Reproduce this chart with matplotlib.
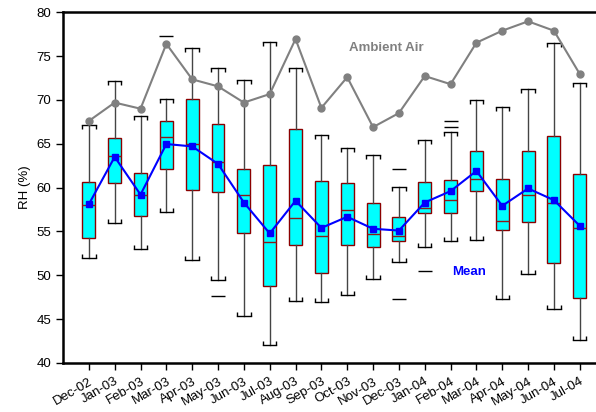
import matplotlib
matplotlib.use("Agg")
import matplotlib.pyplot as plt
import numpy as np

plt.rcParams['font.family'] = ['Liberation Sans', 'DejaVu Sans']

months = ["Dec-02", "Jan-03", "Feb-03", "Mar-03", "Apr-03", "May-03", "Jun-03",
          "Jul-03", "Aug-03", "Sep-03", "Oct-03", "Nov-03", "Dec-03", "Jan-04",
          "Feb-04", "Mar-04", "Apr-04", "May-04", "Jun-04", "Jul-04"]

ambient = [67.6, 69.7, 69.0, 76.4, 72.35, 71.55, 69.7, 70.67, 76.95, 69.1,
           72.6, 66.9, 68.5, 72.73, 71.8, 76.53, 77.9, 78.97, 77.9, 72.96]
mean_rh = [58.1, 63.5, 59.2, 64.97, 64.7, 62.7, 58.3, 54.77, 58.5, 55.4,
           56.67, 55.3, 55.1, 58.3, 59.6, 61.9, 57.92, 59.9, 58.57, 55.64]
median_rh = [58.0, 63.6, 59.1, 65.8, 64.97, 62.95, 59.14, 53.78, 56.5, 54.5,
             57.43, 54.66, 54.5, 57.7, 58.57, 60.97, 56.2, 59.18, 58.27, 55.4]
q1 = [54.2, 60.5, 56.75, 62.1, 59.7, 59.45, 54.8, 48.72, 53.44, 50.27,
      53.4, 53.2, 53.9, 57.05, 57.1, 59.6, 55.15, 56.03, 51.35, 47.4]
q3 = [60.66, 65.7, 61.65, 67.55, 70.14, 67.25, 62.1, 62.6, 66.64, 60.78,
      60.55, 58.2, 56.67, 60.66, 60.86, 64.2, 60.97, 64.2, 65.84, 61.5]
whis_lo = [52.0, 56.0, 53.0, 57.2, 51.76, 49.44, 45.33, 42.0, 47.1, 46.96,
           47.76, 49.55, 51.46, 53.24, 53.9, 53.97, 47.27, 50.1, 46.2, 42.6]
whis_hi = [67.1, 72.16, 68.2, 70.1, 75.96, 73.7, 72.27, 76.58, 73.6, 66.0,
           64.54, 63.7, 60.1, 65.4, 66.3, 70.0, 69.2, 71.2, 76.53, 71.9]
outliers = [[], [], [], [77.26], [], [47.65], [], [], [], [],
            [], [], [62.1, 47.27], [50.47], [67.63, 66.87], [], [], [], [], []]

fig = plt.figure(figsize=(5.96, 4.12), dpi=100)
ax = fig.add_axes([63/596, 1 - 362.9/412, 542.6/596, (362.9 - 12.3)/412])

x = np.arange(len(months))
stats = []
for i in range(len(months)):
    stats.append(dict(med=median_rh[i], q1=q1[i], q3=q3[i],
                      whislo=whis_lo[i], whishi=whis_hi[i],
                      fliers=outliers[i], mean=mean_rh[i]))

bp = ax.bxp(stats, positions=x, widths=0.5, capwidths=0.52, patch_artist=True,
            showmeans=False, manage_ticks=False,
            boxprops=dict(facecolor='#00FFFF', edgecolor='#8B0000', linewidth=1.0),
            medianprops=dict(color='#8B1A1A', linewidth=1.0),
            whiskerprops=dict(color='#444444', linewidth=1.0),
            capprops=dict(color='black', linewidth=1.0),
            flierprops=dict(marker='_', markersize=9.5, markeredgecolor='black',
                            markeredgewidth=1.0, linestyle='none'))
for j, cap in enumerate(bp['caps']):
    cap.set_marker(2 if j % 2 == 0 else 3)
    cap.set_markersize(3)
    cap.set_markeredgewidth(1.0)
    cap.set_markeredgecolor('black')

ax.plot(x, ambient, color='#808080', linewidth=1.5, marker='o', markersize=5,
        markerfacecolor='#808080', markeredgecolor='#808080', zorder=4)
ax.plot(x, mean_rh, color='#0000FF', linewidth=1.5, marker='s', markersize=5,
        markerfacecolor='#0000FF', markeredgecolor='#0000FF', zorder=5)

ax.text(11.5, 75.9, "Ambient Air", color='#808080', fontsize=9.5,
        fontweight='bold', ha='center', va='center')
ax.text(14.7, 50.35, "Mean", color='#0000FF', fontsize=9.5,
        fontweight='bold', ha='center', va='center')

ax.set_xlim(-1, 20)
ax.set_ylim(40, 80)
ax.set_yticks(np.arange(40, 81, 5))
ax.set_xticks(x)
ax.set_xticklabels(months, rotation=30, ha='right', rotation_mode='anchor',
                   fontsize=9.5)
ax.tick_params(axis='y', labelsize=9.5, direction='out', length=5, width=1)
ax.tick_params(axis='x', direction='out', length=5, width=1, pad=4)
ax.set_ylabel("RH (%)", fontsize=9.5)
for s in ['left', 'bottom', 'top']:
    ax.spines[s].set_linewidth(1.8)
ax.spines['right'].set_visible(False)

fig.savefig("out.png", dpi=100)
